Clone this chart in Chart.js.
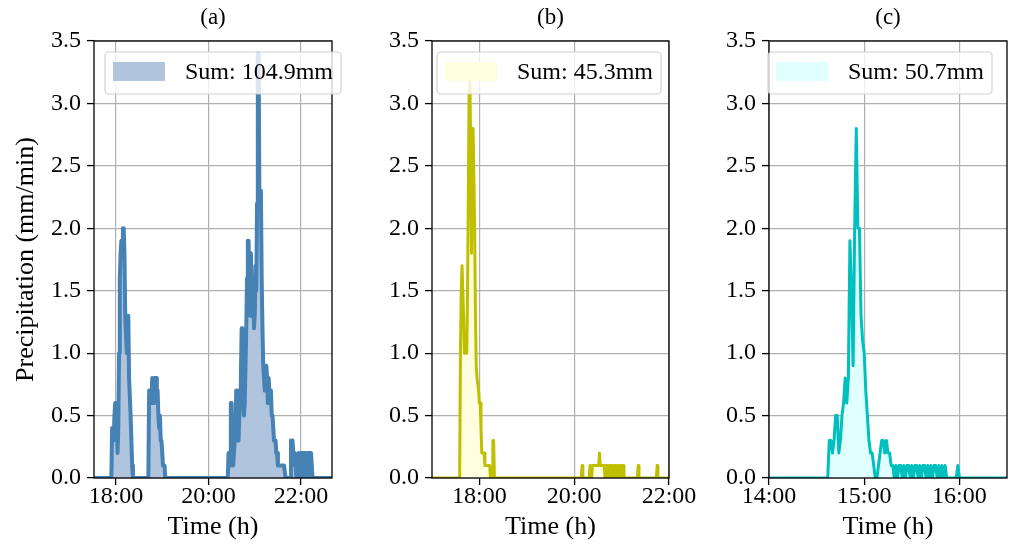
<!DOCTYPE html>
<html><head><meta charset="utf-8">
<script src="https://cdn.jsdelivr.net/npm/chart.js@4.4.1/dist/chart.umd.min.js"></script>
<style>
html,body{margin:0;padding:0;background:#fff;}
#wrap{position:relative;width:1010px;height:548px;overflow:hidden;background:#fff;}
canvas{position:absolute;left:0;top:0;}
</style></head><body>
<div id="wrap">
<canvas id="ca" width="1010" height="548"></canvas>
<canvas id="cb" width="1010" height="548"></canvas>
<canvas id="cc" width="1010" height="548"></canvas>
</div>
<script>
// ---- Data (time in minutes since midnight, 1-min samples within each segment) ----
const yTicks = [0, 0.5, 1.0, 1.5, 2.0, 2.5, 3.0, 3.5];

// Panel (a)
const xTicksA = [1080, 1200, 1320];
const xLabelsA = ["18:00", "20:00", "22:00"];
const segStartA = [1051, 1074, 1122, 1225, 1306, 1360];
const segRainA = [
  [0],
  [0,0.4,0.4,0.3,0.5,0.6,0.6,0.6,0.2,0.4,1.0,1.6,1.8,1.9,1.9,2.0,2.0,1.8,1.3,1.3,1.0,1.3,1.3,0.8,0.8,0.5,0.3,0.1,0],
  [0,0.7,0.7,0.7,0.6,0.8,0.8,0.6,0.8,0.8,0.8,0.6,0.7,0.5,0.4,0.5,0.3,0.3,0.2,0.1,0.1,0.1,0],
  [0,0.2,0.2,0.1,0.6,0.6,0.3,0.1,0.1,0.3,
   0.3,0.7,0.7,0.3,0.3,0.5,0.6,0.8,1.2,1.2,
   0.8,0.5,0.6,0.9,1.2,1.6,1.9,1.9,1.5,1.3,
   1.8,1.5,1.3,1.6,1.2,1.3,1.7,1.5,2.2,3.4,
   3.4,2.3,2.2,2.3,1.6,1.2,0.9,0.8,0.7,0.9,
   0.9,0.8,0.6,0.8,0.7,0.6,0.7,0.5,0.5,0.4,
   0.3,0.3,0.3,0.2,0.2,0.1,0.1,0.1,0.1,0.1,
   0.1,0.1,0.1,0.1,0.1,0],
  [0,0.3,0.3,0.3,0.2,0.2,0.1,0.1,0,0.1,0,0.2,0,0.2,0.1,0.2,0,0.2,0.2,0.1,0.2,0,0.2,0.2,0.2,0,0.2,0.2,0.2,0],
  [0]
];

// Panel (b)
const xTicksB = [1080, 1200, 1320];
const xLabelsB = ["18:00", "20:00", "22:00"];
const segStartB = [1020, 1055, 1209, 1219, 1280, 1304, 1320];
const segRainB = [
  [0],
  [0,1.0,1.5,1.7,1.7,1.3,1.0,1.0,1.0,1.0,
   1.5,2.3,3.1,3.2,2.6,1.8,2.8,2.8,2.8,2.0,
   1.3,0.9,0.8,0.8,0.7,0.6,0.6,0.4,0.2,0.2,
   0.2,0.2,0.1,0.1,0.1,0.1,0.1,0.1,0.1,0,
   0,0,0.3,0.3,0],
  [0,0.1,0],
  [0,0.1,0.1,0,0.1,0.1,0.1,0.1,0.1,0.1,
   0.1,0.1,0.1,0.2,0.1,0.1,0.1,0.1,0.1,0.1,
   0,0.1,0.1,0.1,0,0.1,0.1,0.1,0,0.1,
   0.1,0,0.1,0,0.1,0.1,0,0.1,0,0.1,
   0,0.1,0,0.1,0],
  [0,0.1,0],
  [0,0.1,0],
  [0]
];

// Panel (c)
const xTicksC = [840, 900, 960];
const xLabelsC = ["14:00", "15:00", "16:00"];
const segStartC = [840, 877, 958, 990];
const segRainC = [
  [0],
  [0,0.3,0.3,0.2,0.3,0.5,0.5,0.2,0.3,0.5,
   0.6,0.8,0.6,0.8,1.9,1.5,0.9,2.0,2.8,2.0,
   2.0,1.3,1.1,1.0,0.7,0.5,0.3,0.2,0.2,0.1,
   0,0,0.1,0.2,0.3,0.3,0.2,0.3,0.2,0.2,
   0.1,0.1,0,0.1,0,0.1,0.1,0,0.1,0,
   0.1,0.1,0,0.1,0,0.1,0.1,0,0.1,0,
   0.1,0.1,0,0.1,0,0.1,0,0.1,0.1,0,
   0.1,0,0.1,0,0.1,0],
  [0,0.1,0],
  [0]
];

const sums = ["Sum: 104.9mm", "Sum: 45.3mm", "Sum: 50.7mm"];
const titles = ["(a)", "(b)", "(c)"];

// ---- Helpers ----
const FONT = '"Liberation Serif", "Times New Roman", "DejaVu Serif", serif';

function buildPoints(starts, segs) {
  const pts = [];
  starts.forEach((s, k) => segs[k].forEach((v, i) => pts.push({x: s + i, y: v})));
  return pts;
}

const frameLegend = {
  id: 'frameLegend',
  afterDatasetsDraw(chart, args, opts) {
    const {ctx, chartArea: a} = chart;
    ctx.save();
    ctx.strokeStyle = '#000';
    ctx.lineWidth = 1.3;
    ctx.strokeRect(a.left, a.top, a.right - a.left, a.bottom - a.top);
    const ds = chart.data.datasets[0];
    ctx.font = '24px ' + FONT;
    const tw = ctx.measureText(ds.label).width;
    const x0 = a.left + opts.dx, y0 = opts.top, h = 42;
    const w = 8 + 52 + 20 + tw + 8;
    const r = 4;
    ctx.beginPath();
    ctx.moveTo(x0 + r, y0);
    ctx.lineTo(x0 + w - r, y0);
    ctx.arcTo(x0 + w, y0, x0 + w, y0 + r, r);
    ctx.lineTo(x0 + w, y0 + h - r);
    ctx.arcTo(x0 + w, y0 + h, x0 + w - r, y0 + h, r);
    ctx.lineTo(x0 + r, y0 + h);
    ctx.arcTo(x0, y0 + h, x0, y0 + h - r, r);
    ctx.lineTo(x0, y0 + r);
    ctx.arcTo(x0, y0, x0 + r, y0, r);
    ctx.closePath();
    ctx.fillStyle = 'rgba(255,255,255,0.8)';
    ctx.fill();
    ctx.strokeStyle = 'rgba(204,204,204,0.9)';
    ctx.lineWidth = 1.2;
    ctx.stroke();
    ctx.fillStyle = ds.backgroundColor;
    ctx.fillRect(x0 + 8, y0 + 10, 52, 19);
    ctx.fillStyle = '#000';
    ctx.textBaseline = 'middle';
    ctx.textAlign = 'left';
    ctx.fillText(ds.label, x0 + 80, y0 + h / 2);
    ctx.restore();
  }
};

function makeChart(id, cfg) {
  const pts = buildPoints(cfg.starts, cfg.segs);
  return new Chart(document.getElementById(id), {
    type: 'line',
    data: {
      datasets: [{
        label: cfg.label,
        data: pts,
        borderColor: cfg.line,
        backgroundColor: cfg.fill,
        fill: 'origin',
        borderWidth: cfg.lw,
        pointRadius: 0,
        tension: 0,
        borderJoinStyle: 'round',
        borderCapStyle: 'round'
      }]
    },
    options: {
      responsive: false,
      animation: false,
      events: [],
      parsing: false,
      layout: {padding: {left: cfg.padL, right: cfg.padR, top: 0, bottom: 2}},
      plugins: {
        legend: {display: false},
        tooltip: {enabled: false},
        title: {
          display: true, text: cfg.title, fullSize: false,
          font: {family: FONT, size: 23, weight: 'normal'}, color: '#000',
          padding: {top: 4, bottom: 9.4}
        },
        frameLegend: {dx: cfg.legDx, top: 52}
      },
      scales: {
        x: {
          type: 'linear', min: cfg.xMin, max: cfg.xMax,
          afterBuildTicks: ax => { ax.ticks = cfg.xTicks.map(v => ({value: v})); },
          afterFit: ax => { ax.height = 68; },
          ticks: {
            autoSkip: false, maxRotation: 0, padding: 0,
            callback: (v, i) => cfg.xLabels[i],
            font: {family: FONT, size: 24, lineHeight: 1}, color: '#000'
          },
          grid: {color: '#b0b0b0', lineWidth: 1.2, tickLength: 7, tickColor: '#000', tickWidth: 1.3},
          border: {display: false},
          title: {
            display: true, text: 'Time (h)',
            font: {family: FONT, size: 26}, color: '#000',
            padding: {top: 0, bottom: 3.4}
          }
        },
        y: {
          type: 'linear', min: 0, max: 3.5,
          afterBuildTicks: ax => { ax.ticks = yTicks.map(v => ({value: v})); },
          afterFit: ax => { ax.width = cfg.yW; },
          ticks: {
            padding: 6,
            callback: v => Number(v).toFixed(1),
            font: {family: FONT, size: 24, lineHeight: 1}, color: '#000'
          },
          grid: {color: '#b0b0b0', lineWidth: 1.2, tickLength: 7, tickColor: '#000', tickWidth: 1.3},
          border: {display: false},
          title: {
            display: cfg.yTitle, text: 'Precipitation (mm/min)',
            font: {family: FONT, size: 26}, color: '#000',
            padding: {top: 3, bottom: 0}
          }
        }
      }
    },
    plugins: [frameLegend]
  });
}

makeChart('ca', {
  title: titles[0], label: sums[0], starts: segStartA, segs: segRainA,
  xMin: 1051.5, xMax: 1360.2, xTicks: xTicksA, xLabels: xLabelsA,
  line: '#4682b4', fill: '#b0c4de', lw: 4,
  padL: 8, padR: 678, yW: 86, yTitle: true, legDx: 11
});
makeChart('cb', {
  title: titles[1], label: sums[1], starts: segStartB, segs: segRainB,
  xMin: 1020, xMax: 1320, xTicks: xTicksB, xLabels: xLabelsB,
  line: '#bfbf00', fill: '#ffffe0', lw: 3,
  padL: 372, padR: 341, yW: 60, yTitle: false, legDx: 5
});
makeChart('cc', {
  title: titles[2], label: sums[2], starts: segStartC, segs: segRainC,
  xMin: 840, xMax: 990, xTicks: xTicksC, xLabels: xLabelsC,
  line: '#00bfbf', fill: '#e0ffff', lw: 3,
  padL: 709, padR: 3, yW: 60, yTitle: false, legDx: -1
});
</script>
</body></html>
